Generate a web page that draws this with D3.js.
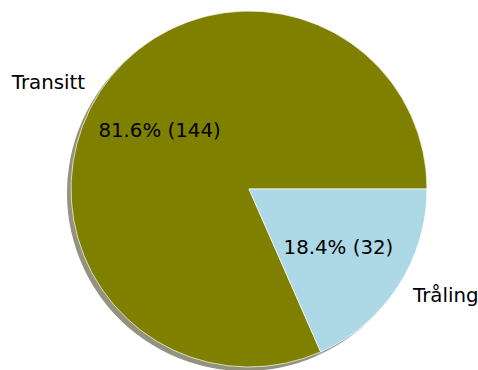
<!DOCTYPE html>
<html>
<head>
<meta charset="utf-8">
<script src="https://cdn.jsdelivr.net/npm/d3@7"></script>
<style>
  html, body { margin: 0; padding: 0; background: #fff; }
  text { font-family: "DejaVu Sans", sans-serif; }
</style>
</head>
<body>
<svg id="chart" width="478" height="370"></svg>
<script>
// Slice data
const categories = ["Transitt", "Tråling"];
const shares = [81.6, 18.4];   // percent of total
const counts = [144, 32];      // absolute counts shown in labels
const colors = ["#808000", "#add8e6"];

const width = 478, height = 370;
const cx = 249, cy = 189, radius = 178;
const shadowOffset = 4;
const fontSize = 19.8;

const svg = d3.select("#chart");
const total = d3.sum(shares);

// Counter-clockwise from 3 o'clock, first slice starting at angle 0
const angle = d3.scaleLinear().domain([0, total]).range([0, 2 * Math.PI]);
let cum = 0;
const slices = shares.map((v, i) => {
  const a0 = angle(cum); cum += v; const a1 = angle(cum);
  return { i, value: v, a0, a1, mid: (a0 + a1) / 2 };
});

// math angle (ccw from +x) -> d3 arc angle (cw from 12 o'clock)
const toD3 = a => Math.PI / 2 - a;
const arc = d3.arc().innerRadius(0).outerRadius(radius);
const pathFor = s => arc({ startAngle: toD3(s.a1), endAngle: toD3(s.a0) });

const shade = c => {
  const rgb = d3.rgb(c);
  return d3.rgb(rgb.r * 0.3, rgb.g * 0.3, rgb.b * 0.3);
};

// shadow
svg.append("g")
  .attr("transform", `translate(${cx - shadowOffset},${cy + shadowOffset})`)
  .selectAll("path").data(slices).join("path")
  .attr("d", pathFor)
  .attr("fill", s => shade(colors[s.i]))
  .attr("fill-opacity", 0.5);

// wedges
svg.append("g")
  .attr("transform", `translate(${cx},${cy})`)
  .selectAll("path").data(slices).join("path")
  .attr("d", pathFor)
  .attr("fill", s => colors[s.i])
  .attr("stroke", "#ffffff")
  .attr("stroke-opacity", 0.7)
  .attr("stroke-width", 1);

// category labels
svg.append("g").selectAll("text").data(slices).join("text")
  .attr("x", s => cx + 1.1 * radius * Math.cos(s.mid))
  .attr("y", s => cy - 1.1 * radius * Math.sin(s.mid))
  .attr("text-anchor", s => Math.cos(s.mid) < 0 ? "end" : "start")
  .attr("dominant-baseline", "central")
  .attr("font-size", fontSize)
  .attr("fill", "#000")
  .text(s => categories[s.i]);

// percentage labels
svg.append("g").selectAll("text").data(slices).join("text")
  .attr("x", s => cx + 0.6 * radius * Math.cos(s.mid))
  .attr("y", s => cy - 0.6 * radius * Math.sin(s.mid))
  .attr("text-anchor", "middle")
  .attr("dominant-baseline", "central")
  .attr("font-size", fontSize)
  .attr("fill", "#000")
  .text(s => `${s.value.toFixed(1)}% (${counts[s.i]})`);
</script>
</body>
</html>
